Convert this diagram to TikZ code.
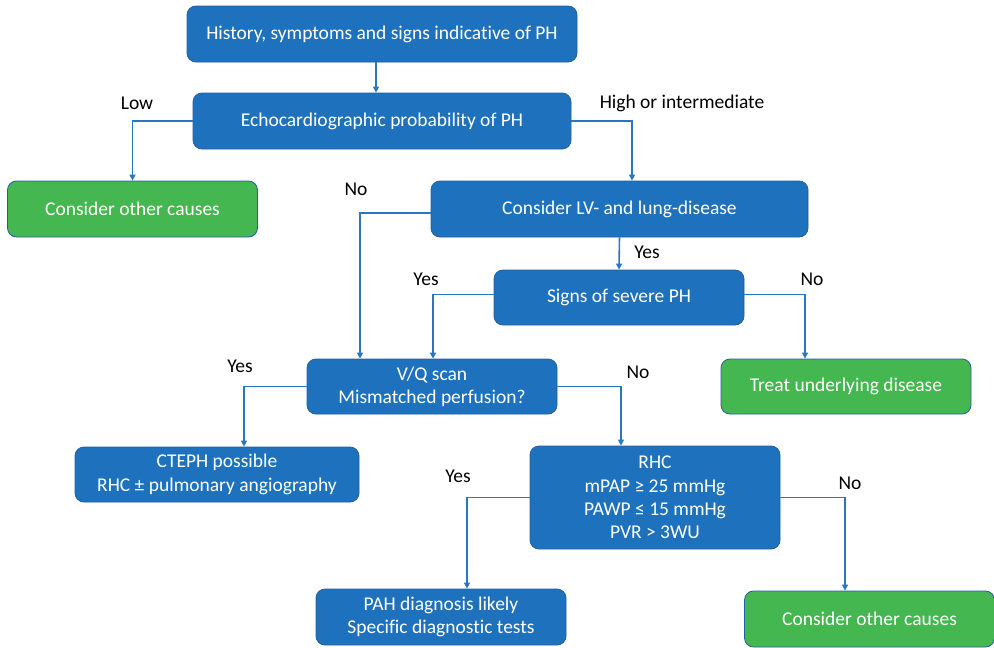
\documentclass[tikz,border=0pt]{standalone}
\usepackage{fontspec}
\setmainfont{Carlito}[Ligatures=NoCommon]
\usetikzlibrary{arrows.meta}
\definecolor{phblue}{RGB}{30,114,189}
\definecolor{phedge}{RGB}{36,94,158}
\definecolor{phgreen}{RGB}{69,183,80}
\definecolor{phline}{RGB}{40,118,196}

\begin{document}
\begin{tikzpicture}[x=1pt,y=-1pt,
  font=\fontsize{19.5}{23.3}\selectfont,
  step box/.style={rectangle,rounded corners=9pt,draw=phedge,line width=0.8pt,fill=phblue,text=white,minimum width=250pt,minimum height=56pt,align=center,inner sep=2pt},
  end box/.style={step box,fill=phgreen},
  arrow/.style={-{Triangle[length=6pt,width=6pt]},line width=1.6pt,draw=phline},
  answer/.style={text=black,inner sep=0pt}]
  \useasboundingbox (0,0) rectangle (994,648);
  \node[step box,minimum width=390pt] (history) at (382,34) {History, symptoms and signs indicative of PH};
  \node[step box,minimum width=378pt] (echo) at (382,121) {Echocardiographic probability of PH};
  \node[end box] (other1) at (132.5,209) {Consider other causes};
  \node[step box,minimum width=377pt] (lung) at (619.5,209) {Consider LV- and lung-disease};
  \node[step box,minimum height=55pt] (severe) at (619,297.5) {Signs of severe PH};
  \node[end box,minimum height=55pt] (treat) at (846,386.5) {Treat underlying disease};
  \node[step box,minimum height=55pt] (vq) at (432,386.5) {V/Q scan\\Mismatched perfusion?};
  \node[step box,minimum width=284pt,minimum height=55pt] (cteph) at (217,474.5) {CTEPH possible\\RHC ± pulmonary angiography};
  \node[step box,minimum height=103pt] (rhc) at (655,497.5) {RHC\\mPAP ≥ 25 mmHg\\PAWP ≤ 15 mmHg\\PVR > 3WU};
  \node[step box] (pah) at (441,617) {PAH diagnosis likely\\Specific diagnostic tests};
  \node[end box] (other2) at (869.5,619) {Consider other causes};
  % connectors
  \draw[arrow] ([xshift=-6pt]history.south) -- ([xshift=-6pt]echo.north);
  \draw[arrow] (echo.west) -| (other1.north);
  \draw[arrow] (echo.east) -| ([xshift=12.5pt]lung.north);
  \draw[arrow] ([yshift=-4pt]lung.west) -| ([xshift=-72pt]vq.north);
  \draw[arrow] (lung.south) -- (severe.north);
  \draw[arrow] ([yshift=3pt]severe.west) -| ([xshift=1pt]vq.north);
  \draw[arrow] ([yshift=3pt]severe.east) -| ([xshift=-41pt]treat.north);
  \draw[arrow] (vq.west) -| ([xshift=27pt]cteph.north);
  \draw[arrow] (vq.east) -| ([xshift=-34pt]rhc.north);
  \draw[arrow] (rhc.west) -| ([xshift=26pt]pah.north);
  \draw[arrow] (rhc.east) -| ([xshift=-24.5pt]other2.north);
  % answers
  \node[answer] (low) at (137,103) {Low};
  \node[answer] (high) at (682,103) {High or intermediate};
  \node[answer] (lungno) at (356,189) {No};
  \node[answer] (lungyes) at (647,252) {Yes};
  \node[answer] (severeyes) at (426,279) {Yes};
  \node[answer] (severeno) at (812,279) {No};
  \node[answer] (vqyes) at (240,366) {Yes};
  \node[answer] (vqno) at (638,372) {No};
  \node[answer] (rhcyes) at (458,476) {Yes};
  \node[answer] (rhcno) at (850,483) {No};
\end{tikzpicture}
\end{document}
